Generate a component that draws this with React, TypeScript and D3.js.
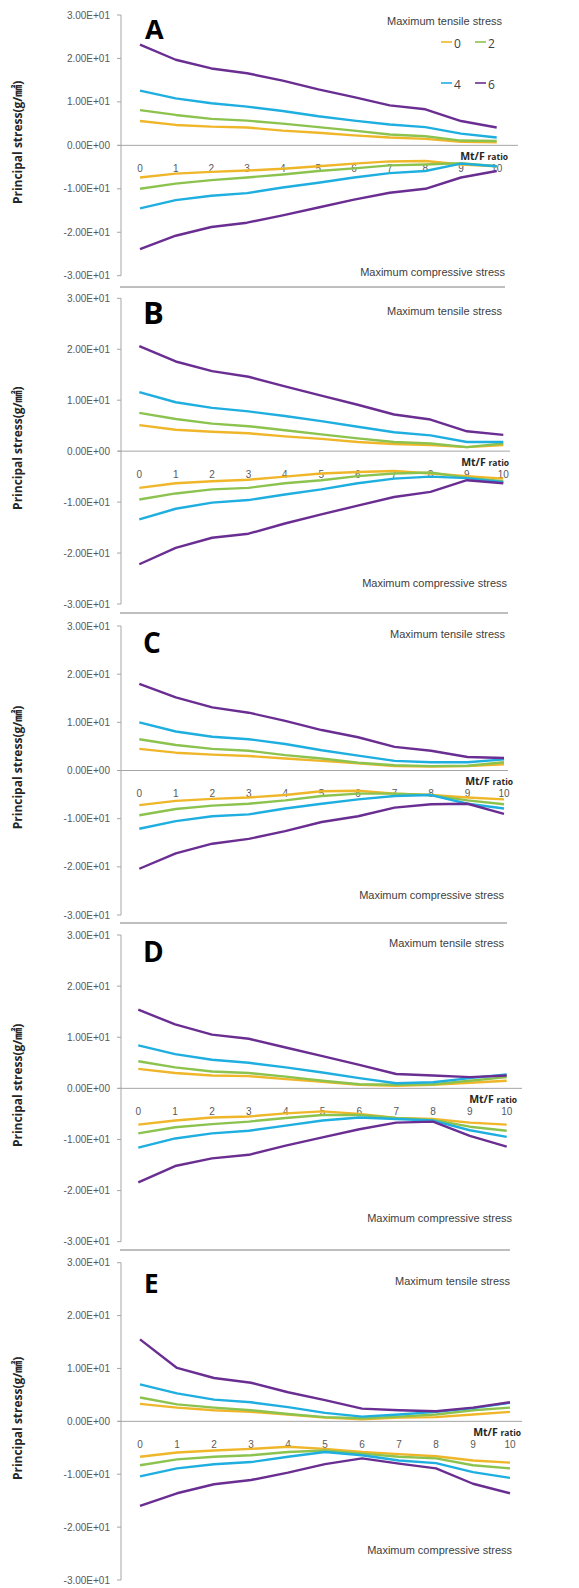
import React from "react";
import * as d3 from "d3";

// ---------- data ----------
const ratios = [0, 1, 2, 3, 4, 5, 6, 7, 8, 9, 10];
const seriesNames = ["0", "2", "4", "6"];
const seriesColors = ["#f0b62a", "#8cc34f", "#1eaee0", "#6a2d92"];
const yTickValues = [30, 20, 10, 0, -10, -20, -30];
const panelLetters = ["A", "B", "C", "D", "E"];

// tensile / compressive per panel, one row per series (0, 2, 4, 6)
const tensileA = [
  [5.6, 4.7, 4.3, 4.1, 3.4, 2.9, 2.3, 1.8, 1.5, 0.8, 0.7],
  [8.1, 7.0, 6.1, 5.7, 5.0, 4.2, 3.4, 2.5, 2.1, 1.1, 1.0],
  [12.6, 10.8, 9.7, 8.9, 7.9, 6.7, 5.7, 4.8, 4.2, 2.7, 1.8],
  [23.2, 19.7, 17.7, 16.6, 14.9, 12.9, 11.1, 9.2, 8.3, 5.6, 4.1],
];
const compressiveA = [
  [-7.4, -6.5, -6.1, -5.8, -5.4, -4.8, -4.2, -3.7, -3.6, -4.4, -4.8],
  [-10.0, -8.8, -8.0, -7.4, -6.7, -5.9, -5.3, -4.6, -4.4, -4.1, -4.8],
  [-14.5, -12.6, -11.6, -11.0, -9.7, -8.6, -7.4, -6.4, -5.9, -4.2, -4.8],
  [-23.9, -20.8, -18.8, -17.8, -16.1, -14.3, -12.5, -10.9, -10.0, -7.4, -5.9],
];
const tensileB = [
  [5.1, 4.2, 3.8, 3.5, 2.9, 2.4, 1.8, 1.4, 1.2, 0.8, 1.2],
  [7.5, 6.3, 5.4, 4.9, 4.1, 3.3, 2.5, 1.8, 1.5, 0.8, 1.5],
  [11.6, 9.6, 8.5, 7.8, 6.9, 5.9, 4.8, 3.7, 3.1, 1.8, 1.8],
  [20.6, 17.6, 15.7, 14.6, 12.7, 10.9, 9.1, 7.2, 6.2, 3.9, 3.2],
];
const compressiveB = [
  [-7.2, -6.3, -5.9, -5.6, -5.0, -4.4, -4.1, -3.9, -4.4, -4.9, -5.4],
  [-9.5, -8.3, -7.5, -7.2, -6.3, -5.7, -4.9, -4.4, -4.2, -5.2, -5.9],
  [-13.4, -11.3, -10.1, -9.6, -8.5, -7.5, -6.3, -5.4, -5.0, -5.3, -6.1],
  [-22.2, -19.0, -17.0, -16.2, -14.2, -12.4, -10.7, -9.0, -8.0, -5.7, -6.3],
];
const tensileC = [
  [4.5, 3.7, 3.3, 3.0, 2.5, 2.0, 1.5, 0.9, 0.8, 0.9, 1.3],
  [6.5, 5.3, 4.5, 4.1, 3.2, 2.5, 1.6, 1.1, 0.9, 1.0, 1.7],
  [10.0, 8.1, 7.0, 6.5, 5.5, 4.2, 3.1, 2.0, 1.7, 1.7, 2.3],
  [18.0, 15.2, 13.1, 12.0, 10.3, 8.4, 6.9, 4.9, 4.1, 2.8, 2.6],
];
const compressiveC = [
  [-7.2, -6.3, -5.9, -5.6, -5.1, -4.3, -4.2, -4.8, -5.1, -5.6, -6.0],
  [-9.3, -8.0, -7.3, -6.9, -6.2, -5.3, -4.8, -4.8, -5.1, -6.2, -7.0],
  [-12.1, -10.5, -9.5, -9.1, -7.9, -6.9, -6.0, -5.3, -5.1, -6.9, -7.9],
  [-20.4, -17.2, -15.2, -14.2, -12.6, -10.7, -9.5, -7.7, -7.0, -6.9, -9.0],
];
const tensileD = [
  [3.8, 3.0, 2.5, 2.4, 1.8, 1.3, 0.7, 0.5, 0.7, 1.1, 1.5],
  [5.3, 4.1, 3.3, 3.0, 2.3, 1.5, 0.8, 0.7, 0.8, 1.5, 2.2],
  [8.4, 6.7, 5.6, 5.0, 4.1, 3.1, 2.0, 1.0, 1.2, 2.0, 2.7],
  [15.4, 12.5, 10.5, 9.7, 8.0, 6.3, 4.6, 2.8, 2.5, 2.2, 2.5],
];
const compressiveD = [
  [-7.1, -6.3, -5.7, -5.5, -4.9, -4.5, -5.0, -5.8, -6.0, -6.7, -7.1],
  [-8.8, -7.6, -7.0, -6.5, -5.8, -5.2, -5.2, -5.8, -6.2, -7.5, -8.3],
  [-11.6, -9.8, -8.8, -8.3, -7.3, -6.3, -5.7, -6.0, -6.3, -8.2, -9.5],
  [-18.4, -15.2, -13.7, -13.0, -11.2, -9.6, -8.0, -6.7, -6.5, -9.3, -11.4],
];
const tensileE = [
  [3.3, 2.6, 2.1, 1.8, 1.3, 0.7, 0.4, 0.7, 0.8, 1.3, 1.8],
  [4.5, 3.2, 2.6, 2.1, 1.4, 0.8, 0.6, 0.9, 1.3, 2.1, 2.6],
  [7.0, 5.3, 4.1, 3.6, 2.7, 1.6, 0.9, 1.3, 1.8, 2.5, 3.5],
  [15.5, 10.1, 8.2, 7.3, 5.5, 4.0, 2.4, 2.1, 1.9, 2.6, 3.6],
];
const compressiveE = [
  [-6.7, -5.9, -5.5, -5.2, -4.8, -5.2, -5.8, -6.2, -6.6, -7.4, -7.8],
  [-8.3, -7.2, -6.7, -6.4, -5.8, -5.5, -6.1, -6.7, -7.0, -8.3, -8.9],
  [-10.4, -8.9, -8.1, -7.7, -6.7, -5.8, -6.4, -7.4, -7.9, -9.6, -10.7],
  [-16.0, -13.6, -11.9, -11.1, -9.7, -8.1, -7.0, -8.0, -8.9, -11.8, -13.6],
];

const tensileSets = [tensileA, tensileB, tensileC, tensileD, tensileE];
const compressiveSets = [compressiveA, compressiveB, compressiveC, compressiveD, compressiveE];

// ---------- layout ----------
const W = 579;
const H = 1588;
const AXIS_X = 121;

type Layout = {
  top: number; bottom: number; x0: number; x10: number; zeroEnd: number;
  sep: number | null; sepEnd: number; letterY: number; letterSize: number; letterX: number;
  tensRight: number; tensY: number; compRight: number; compY: number; mtfRight: number;
};

const layouts: Layout[] = [
  { top: 15, bottom: 275.7, x0: 140, x10: 496.7, zeroEnd: 518, sep: 287, sepEnd: 505, letterY: 39, letterSize: 27, letterX: 145, tensRight: 502, tensY: 21, compRight: 505, compY: 272, mtfRight: 508 },
  { top: 298.3, bottom: 604, x0: 139.3, x10: 503.3, zeroEnd: 510, sep: 613, sepEnd: 508, letterY: 324, letterSize: 31, letterX: 143, tensRight: 502, tensY: 311, compRight: 507, compY: 583, mtfRight: 509 },
  { top: 626, bottom: 915, x0: 139.3, x10: 504, zeroEnd: 508, sep: 923, sepEnd: 507, letterY: 653, letterSize: 28, letterX: 143, tensRight: 505, tensY: 634, compRight: 504, compY: 895, mtfRight: 513 },
  { top: 935, bottom: 1241.7, x0: 138.3, x10: 506.7, zeroEnd: 522, sep: 1250, sepEnd: 510, letterY: 962, letterSize: 28, letterX: 143, tensRight: 504, tensY: 943, compRight: 512, compY: 1218, mtfRight: 517 },
  { top: 1262.7, bottom: 1580, x0: 140, x10: 510, zeroEnd: 522, sep: null, sepEnd: 510, letterY: 1293, letterSize: 26, letterX: 144, tensRight: 510, tensY: 1281, compRight: 512, compY: 1550, mtfRight: 521 },
];

const fmtSci = (v: number) => {
  const s = v.toExponential(2).toUpperCase();
  return s.replace(/E([+-])(\d)$/, "E$10$2");
};

const FONT = "'Liberation Sans', Arial, sans-serif";
const TITLE_FONT = "'Open Sans', 'Noto Sans CJK KR', sans-serif";

function Panel({ idx }: { idx: number }) {
  const L = layouts[idx];
  const y = d3.scaleLinear().domain([-30, 30]).range([L.bottom, L.top]);
  const x = d3.scaleLinear().domain([0, 10]).range([L.x0, L.x10]);
  const line = d3.line<number>().x((_, i) => x(ratios[i])).y((d) => y(d));
  const zeroY = y(0);
  const tens = tensileSets[idx];
  const comp = compressiveSets[idx];
  return (
    <g>
      {/* y axis */}
      <line x1={AXIS_X} x2={AXIS_X} y1={y(30)} y2={y(-30)} stroke="#a6a6a6" strokeWidth={1} />
      {yTickValues.map((v) => (
        <g key={v}>
          <line x1={AXIS_X - 4} x2={AXIS_X} y1={y(v)} y2={y(v)} stroke="#a6a6a6" strokeWidth={1} />
          <text x={110} y={y(v)} dy="0.35em" textAnchor="end" fontFamily={FONT} fontSize={10} fill="#595959">
            {fmtSci(v)}
          </text>
        </g>
      ))}
      {/* zero line */}
      <line x1={AXIS_X - 3} x2={L.zeroEnd} y1={zeroY} y2={zeroY} stroke="#a6a6a6" strokeWidth={1} />
      {ratios.map((r) => (
        <text key={r} x={x(r)} y={zeroY + 23} dy="0.35em" textAnchor="middle" fontFamily={FONT} fontSize={10} fill="#595959">
          {r}
        </text>
      ))}
      <text x={L.mtfRight} y={zeroY + 10} dy="0.3em" textAnchor="end" fontFamily={TITLE_FONT} fontWeight={700} fill="#262626">
        <tspan fontSize={10.5}>Mt/F </tspan>
        <tspan fontSize={8.5}>ratio</tspan>
      </text>
      {/* y title */}
      <text
        transform={`translate(18,${zeroY - 3}) rotate(-90)`}
        textAnchor="middle"
        dy="0.35em"
        fontFamily={TITLE_FONT}
        fontWeight={700}
        fontSize={12}
        fill="#262626"
      >
        Principal stress(g/㎟)
      </text>
      {/* letter */}
      <text x={L.letterX} y={L.letterY} fontFamily={TITLE_FONT} fontWeight={700} fontSize={L.letterSize} fill="#000">
        {panelLetters[idx]}
      </text>
      <text x={L.tensRight} y={L.tensY} dy="0.35em" textAnchor="end" fontFamily={FONT} fontSize={11} fill="#404040">
        Maximum tensile stress
      </text>
      <text x={L.compRight} y={L.compY} dy="0.35em" textAnchor="end" fontFamily={FONT} fontSize={11} fill="#404040">
        Maximum compressive stress
      </text>
      {/* series */}
      {seriesNames.map((name, si) => (
        <g key={name}>
          <path d={line(tens[si]) || ""} fill="none" stroke={seriesColors[si]} strokeWidth={2.4} strokeLinejoin="round" />
          <path d={line(comp[si]) || ""} fill="none" stroke={seriesColors[si]} strokeWidth={2.4} strokeLinejoin="round" />
        </g>
      ))}
      {L.sep !== null && (
        <line x1={120} x2={L.sepEnd} y1={L.sep} y2={L.sep} stroke="#7f7f7f" strokeWidth={1} />
      )}
    </g>
  );
}

function Legend() {
  const rows = [
    { y: 44, items: [0, 1] },
    { y: 85, items: [2, 3] },
  ];
  const colX = [441, 475];
  return (
    <g>
      {rows.map((row) =>
        row.items.map((si, ci) => (
          <g key={si}>
            <line x1={colX[ci]} x2={colX[ci] + 11} y1={row.y - 2} y2={row.y - 2} stroke={seriesColors[si]} strokeWidth={1.6} />
            <text x={colX[ci] + 13} y={row.y} dy="0.35em" fontFamily={TITLE_FONT} fontSize={12} fill="#404040">
              {seriesNames[si]}
            </text>
          </g>
        ))
      )}
    </g>
  );
}

export default function App() {
  return (
    <svg
      width={W}
      height={H}
      viewBox={`0 0 ${W} ${H}`}
      style={{ position: "absolute", left: 0, top: 0, background: "#fff" }}
    >
      <rect width={W} height={H} fill="#fff" />
      {layouts.map((_, i) => (
        <Panel key={i} idx={i} />
      ))}
      <Legend />
    </svg>
  );
}
